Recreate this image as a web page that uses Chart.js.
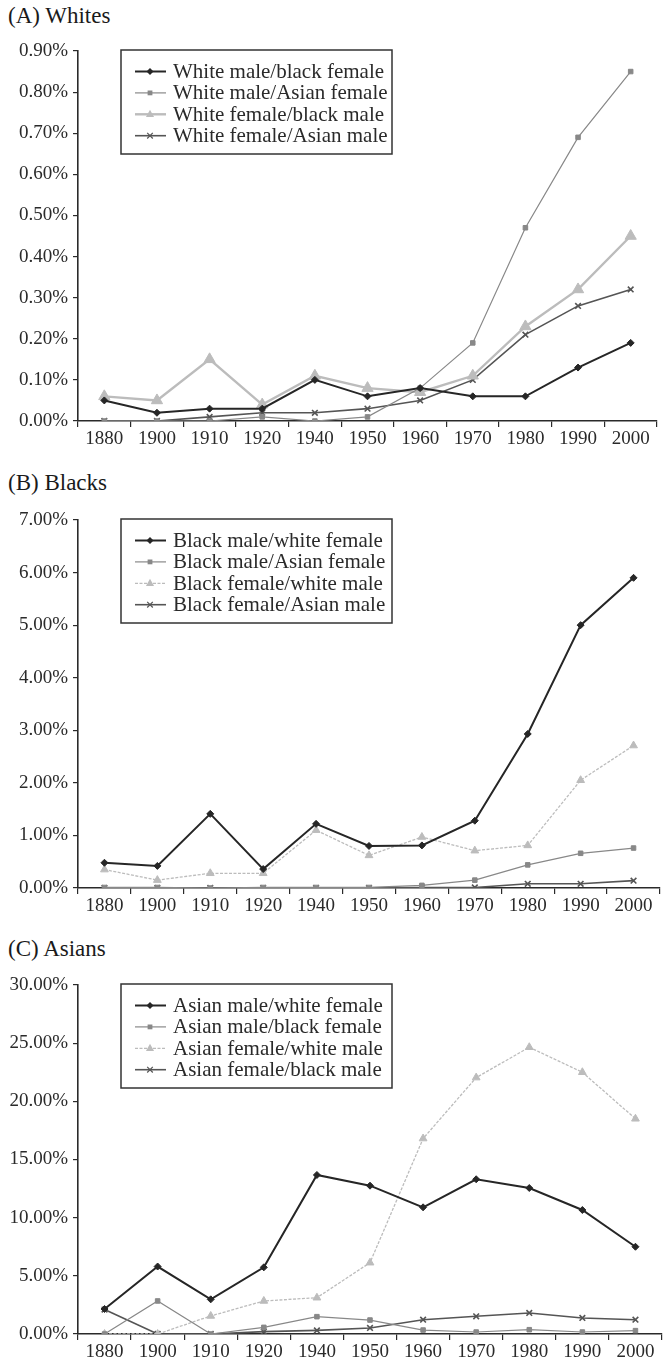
<!DOCTYPE html>
<html>
<head>
<meta charset="utf-8">
<script src="https://cdn.jsdelivr.net/npm/chart.js@4.4.1/dist/chart.umd.min.js"></script>
<style>
  body { margin: 0; background: #fff; width: 668px; height: 1369px; position: relative; overflow: hidden; font-family: "Liberation Serif", serif; }
  .title { position: absolute; left: 8px; font-size: 23px; line-height: 26px; color: #1a1a1a; }
  .panel { position: absolute; left: 0; }
</style>
</head>
<body>
<div class="title" style="top:3px">(A) Whites</div>
<div class="panel" style="top:31px"><canvas id="chartA" width="668" height="430"></canvas></div>
<div class="title" style="top:470px">(B) Blacks</div>
<div class="panel" style="top:500px"><canvas id="chartB" width="668" height="428"></canvas></div>
<div class="title" style="top:936px">(C) Asians</div>
<div class="panel" style="top:965px"><canvas id="chartC" width="668" height="404"></canvas></div>

<script>
/* ---------- data ---------- */
const years = ["1880", "1900", "1910", "1920", "1940", "1950", "1960", "1970", "1980", "1990", "2000"];

// (A) Whites, percent
const whiteLabels = ["White male/black female", "White male/Asian female", "White female/black male", "White female/Asian male"];
const wmBf = [0.05, 0.02, 0.03, 0.03, 0.10, 0.06, 0.08, 0.06, 0.06, 0.13, 0.19];
const wmAf = [0.00, 0.00, 0.00, 0.01, 0.00, 0.01, 0.08, 0.19, 0.47, 0.69, 0.85];
const wfBm = [0.06, 0.05, 0.15, 0.04, 0.11, 0.08, 0.07, 0.11, 0.23, 0.32, 0.45];
const wfAm = [0.00, 0.00, 0.01, 0.02, 0.02, 0.03, 0.05, 0.10, 0.21, 0.28, 0.32];
const whiteAxis = [0, 0.9, 0.1]; // min, max, step

// (B) Blacks
const blackLabels = ["Black male/white female", "Black male/Asian female", "Black female/white male", "Black female/Asian male"];
const bmWf = [0.48, 0.42, 1.41, 0.36, 1.22, 0.80, 0.81, 1.28, 2.93, 5.00, 5.90];
const bmAf = [0.01, 0.01, 0.00, 0.01, 0.01, 0.01, 0.05, 0.15, 0.44, 0.66, 0.76];
const bfWm = [0.35, 0.15, 0.28, 0.28, 1.10, 0.62, 0.97, 0.71, 0.81, 2.05, 2.71];
const bfAm = [0.00, 0.00, 0.00, 0.00, 0.00, 0.00, 0.01, 0.01, 0.08, 0.08, 0.14];
const blackAxis = [0, 7, 1];

// (C) Asians
const asianLabels = ["Asian male/white female", "Asian male/black female", "Asian female/white male", "Asian female/black male"];
const amWf = [2.15, 5.8, 2.98, 5.73, 13.67, 12.75, 10.89, 13.3, 12.55, 10.66, 7.5];
const amBf = [0.0, 2.84, 0.0, 0.57, 1.49, 1.2, 0.34, 0.17, 0.37, 0.17, 0.29];
const afWm = [0.0, 0.0, 1.55, 2.84, 3.12, 6.13, 16.8, 22.04, 24.65, 22.5, 18.5];
const afBm = [2.1, 0.0, 0.0, 0.2, 0.31, 0.52, 1.23, 1.52, 1.81, 1.38, 1.23];
const asianAxis = [0, 30, 5];

/* ---------- styles ---------- */
const FONT = '"Liberation Serif", "Times New Roman", serif';
const INK = "#2a2a2a";

function seriesStyle(i, bigTri) {
  const s = [
    { borderColor: "#262626", borderWidth: 2, pointStyle: "rectRot", pointRadius: 3.5, fill: "#262626" },
    { borderColor: "#888888", borderWidth: 1.2, pointStyle: "rect", pointRadius: 3.2, fill: "#888888" },
    { borderColor: "#bcbcbc", borderWidth: bigTri ? 2.4 : 1.3, borderDash: bigTri ? [] : [3, 1.5],
      pointStyle: "triangle", pointRadius: bigTri ? 6.5 : 4.5, fill: "#bcbcbc" },
    { borderColor: "#555555", borderWidth: 1.6, pointStyle: "crossRot", pointRadius: 4, fill: "#555555" }
  ][i];
  return {
    borderColor: s.borderColor,
    backgroundColor: s.fill,
    borderWidth: s.borderWidth,
    borderDash: s.borderDash || [],
    pointStyle: s.pointStyle,
    pointRadius: s.pointRadius,
    pointHoverRadius: s.pointRadius,
    pointBackgroundColor: s.fill,
    pointBorderColor: s.borderColor,
    pointBorderWidth: s.pointStyle === "crossRot" ? 1.6 : 1,
    tension: 0
  };
}

/* ---------- boxed legend inside the plot ---------- */
function marker(ctx, style, r, x, y) {
  ctx.beginPath();
  if (style === "rectRot") {
    ctx.moveTo(x, y - r); ctx.lineTo(x + r, y); ctx.lineTo(x, y + r); ctx.lineTo(x - r, y); ctx.closePath(); ctx.fill();
  } else if (style === "rect") {
    const s = r * 0.75; ctx.rect(x - s, y - s, 2 * s, 2 * s); ctx.fill();
  } else if (style === "triangle") {
    ctx.moveTo(x, y - r); ctx.lineTo(x + r * 0.9, y + r * 0.6); ctx.lineTo(x - r * 0.9, y + r * 0.6); ctx.closePath(); ctx.fill();
  } else {
    const s = r * 0.7;
    ctx.moveTo(x - s, y - s); ctx.lineTo(x + s, y + s); ctx.moveTo(x + s, y - s); ctx.lineTo(x - s, y + s); ctx.stroke();
  }
}

const boxLegend = {
  id: "boxLegend",
  afterDraw(chart) {
    const ctx = chart.ctx, a = chart.chartArea;
    const x = a.left + 43, y = a.top - 1, w = 271, h = 104;
    ctx.save();
    ctx.fillStyle = "#fff";
    ctx.fillRect(x, y, w, h);
    ctx.strokeStyle = "#333";
    ctx.lineWidth = 1.5;
    ctx.strokeRect(x, y, w, h);
    ctx.font = "21px " + FONT;
    ctx.textBaseline = "middle";
    chart.data.datasets.forEach((ds, i) => {
      const cy = y + 21.5 + i * 21.4;
      ctx.strokeStyle = ds.borderColor;
      ctx.lineWidth = ds.borderWidth;
      ctx.setLineDash(ds.borderDash);
      ctx.beginPath(); ctx.moveTo(x + 14, cy); ctx.lineTo(x + 45, cy); ctx.stroke();
      ctx.setLineDash([]);
      ctx.fillStyle = ds.borderColor;
      ctx.lineWidth = 1.2;
      marker(ctx, ds.pointStyle, Math.min(ds.pointRadius, 4.5), x + 29, cy);
      ctx.fillStyle = INK;
      ctx.fillText(ds.label, x + 52, cy + 1);
    });
    ctx.restore();
  }
};

/* ---------- chart builder ---------- */
function makeChart(id, labels, series, axis, rightPad, xHeight, bigTri) {
  new Chart(document.getElementById(id), {
    type: "line",
    data: {
      labels: years,
      datasets: series.map((d, i) => Object.assign({ label: labels[i], data: d }, seriesStyle(i, bigTri)))
    },
    options: {
      responsive: false,
      animation: false,
      events: [],
      layout: { padding: { top: 20, right: rightPad, left: 0, bottom: 0 } },
      plugins: { legend: { display: false }, tooltip: { enabled: false } },
      scales: {
        x: {
          type: "category",
          offset: true,
          afterFit: s => { s.height = xHeight; },
          grid: { offset: true, drawOnChartArea: false, drawTicks: true, tickLength: 6, color: INK, lineWidth: 1.2 },
          border: { display: true, color: INK, width: 1.6 },
          ticks: { color: INK, font: { family: FONT, size: 19 }, padding: 1, autoSkip: false, maxRotation: 0 }
        },
        y: {
          min: axis[0], max: axis[1],
          afterFit: s => { s.width = 78; },
          grid: { drawOnChartArea: false, drawTicks: true, tickLength: 5, color: INK, lineWidth: 1.2 },
          border: { display: true, color: INK, width: 1.6 },
          ticks: {
            stepSize: axis[2], color: INK, padding: 5,
            font: { family: FONT, size: 19 },
            callback: v => v.toFixed(2) + "%"
          }
        }
      }
    },
    plugins: [boxLegend]
  });
}

makeChart("chartA", whiteLabels, [wmBf, wmAf, wfBm, wfAm], whiteAxis, 11, 40, true);
makeChart("chartB", blackLabels, [bmWf, bmAf, bfWm, bfAm], blackAxis, 8, 40, false);
makeChart("chartC", asianLabels, [amWf, amBf, afWm, afBm], asianAxis, 6, 35, false);
</script>
</body>
</html>
